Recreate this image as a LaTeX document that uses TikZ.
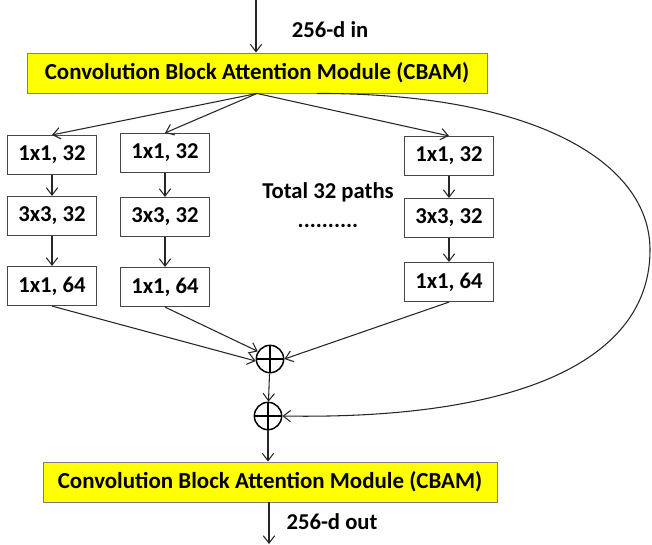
\documentclass[tikz,border=0pt]{standalone}
\usepackage{fontspec}
\setmainfont{Carlito}
\usepackage{tikz}
\usetikzlibrary{calc,arrows.meta}
\definecolor{cbam}{HTML}{FFFF00}
\definecolor{edge}{HTML}{7F7F7F}
\definecolor{ink}{HTML}{262626}
\tikzset{
  conv/.style={draw=ink!85, line width=0.6pt, fill=white, minimum width=67pt, minimum height=29.5pt, inner sep=0pt, font=\fontsize{17}{19}\selectfont\bfseries},
  att/.style={draw=edge, line width=0.7pt, fill=cbam, minimum height=30pt, inner sep=0pt, font=\fontsize{17.2}{19}\selectfont\bfseries},
  sum/.style={circle, draw=black, line width=1.1pt, minimum size=20.5pt, inner sep=0pt,
    path picture={\draw[line width=1.1pt] (path picture bounding box.north) -- (path picture bounding box.south)
      (path picture bounding box.west) -- (path picture bounding box.east);}},
  flow/.style={draw=ink, line width=0.8pt, -{Straight Barb[length=5.5pt,width=8.5pt]}},
  lab/.style={text=black, font=\fontsize{17}{19}\selectfont\bfseries},
}
\begin{document}
\begin{tikzpicture}[x=0.75pt,y=-0.75pt]
  \useasboundingbox (0,0) rectangle (652,544);
  \coordinate (in) at (256,0);
  \coordinate (out) at (269,544);
  \node[att, minimum width=345pt] (cbam1) at (257,73) {Convolution Block Attention Module (CBAM)};
  \node[att, minimum width=340.5pt] (cbam2) at (270,482) {Convolution Block Attention Module (CBAM)};
  \node[lab] (inlab) at (330,30) {256-d in};
  \node[lab] (outlab) at (332,522) {256-d out};

  \node[conv] (b11) at (52,155) {1x1, 32};
  \node[conv] (b12) at (52,216) {3x3, 32};
  \node[conv] (b13) at (52,286) {1x1, 64};
  \node[conv] (b21) at (165,153) {1x1, 32};
  \node[conv] (b22) at (165,217) {3x3, 32};
  \node[conv] (b23) at (165,287) {1x1, 64};
  \node[conv] (b31) at (449,156) {1x1, 32};
  \node[conv] (b32) at (449,218) {3x3, 32};
  \node[conv] (b33) at (449,282) {1x1, 64};
  \node[lab] (total) at (328,192) {Total 32 paths};
  \node[lab] (dots) at (328,226) {..........};

  \node[sum] (sum1) at (270,359) {};
  \node[sum] (sum2) at (268,416) {};

  \draw[flow] (in) -- (in |- cbam1.north);
  \draw[flow] (cbam1.south) -- (b11.north);
  \draw[flow] (cbam1.south) -- (b21.north);
  \draw[flow] (cbam1.south) -- (b31.north);
  \foreach \c in {1,2,3} {
    \draw[flow] (b\c1) -- (b\c2);
    \draw[flow] (b\c2) -- (b\c3);
  }
  \draw[flow] (b13.south) -- (sum1.188);
  \draw[flow] (b23.south) -- (sum1.148);
  \draw[flow] (b33.south) -- (sum1.east);
  \draw[flow] (sum1) -- (sum2);
  \draw[flow] ([xshift=45pt]cbam1.south) .. controls (530,93) and (650,160) .. (650,250)
    .. controls (650,360) and (520,420) .. (sum2.east);
  \draw[flow] (sum2) -- (sum2 |- cbam2.north);
  \draw[flow] (cbam2.south -| out) -- (out);
\end{tikzpicture}
\end{document}
